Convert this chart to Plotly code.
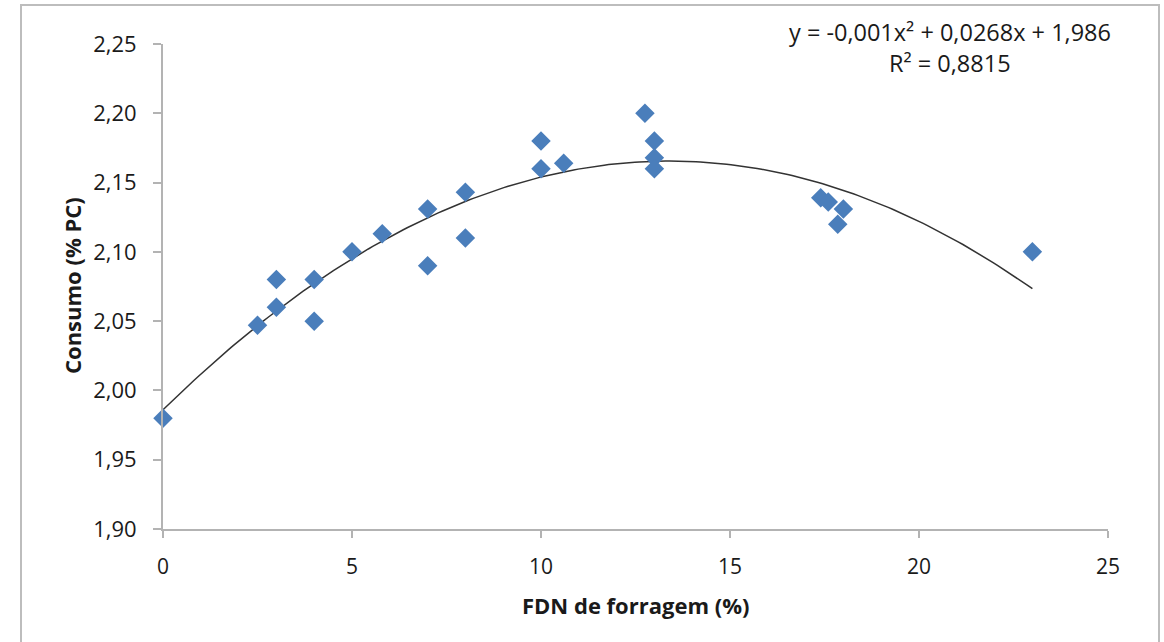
import numpy as np
import plotly.graph_objects as go

# Data
fdn_forragem = [0, 2.5, 3, 3, 4, 4, 5, 5.8, 7, 7, 8, 8, 10, 10, 10.6, 12.75, 13, 13, 13, 17.4, 17.6, 18, 17.85, 23]
consumo = [1.98, 2.047, 2.08, 2.06, 2.08, 2.05, 2.10, 2.113, 2.131, 2.09, 2.143, 2.11, 2.18, 2.16, 2.164, 2.20, 2.18, 2.168, 2.16, 2.139, 2.136, 2.131, 2.12, 2.10]

# Trendline coefficients as printed on the chart
coef_a = -0.001
coef_b = 0.0268
coef_c = 1.986
r2_text = "0,8815"

x_ticks = [0, 5, 10, 15, 20, 25]
y_ticks = [1.90, 1.95, 2.00, 2.05, 2.10, 2.15, 2.20, 2.25]
y_tick_labels = ["1,90", "1,95", "2,00", "2,05", "2,10", "2,15", "2,20", "2,25"]

W, H = 1164, 642
ML, MR, MT, MB = 163, 56, 44, 113
pw, ph = W - ML - MR, H - MT - MB

def px2paper_x(px):
    return (px - ML) / pw

def px2paper_y(py):
    return (H - MB - py) / ph

xs = np.linspace(min(fdn_forragem), max(fdn_forragem), 200)
ys = coef_a * xs**2 + coef_b * xs + coef_c

FONT = "Open Sans"
TXT = "#1a1a1a"
AX = "#b3b3b3"

fig = go.Figure()
fig.add_trace(go.Scatter(x=xs, y=ys, mode="lines",
                         line=dict(color="#333333", width=1.5),
                         hoverinfo="skip", showlegend=False))
fig.add_trace(go.Scatter(x=fdn_forragem, y=consumo, mode="markers",
                         marker=dict(symbol="diamond", size=15, color="#4a7ebb"),
                         cliponaxis=False, showlegend=False))

fig.update_layout(
    width=W, height=H,
    margin=dict(l=ML, r=MR, t=MT, b=MB, autoexpand=False),
    paper_bgcolor="white", plot_bgcolor="white",
    font=dict(family=FONT, size=20, color=TXT),
    xaxis=dict(range=[0, 25], tickvals=x_ticks, ticktext=[str(v) for v in x_ticks],
               showgrid=False, zeroline=False, showline=True, linecolor=AX, linewidth=2,
               ticks="outside", ticklen=7, tickcolor=AX, tickwidth=2,
               tickfont=dict(size=21), ticklabelstandoff=11, automargin=False),
    yaxis=dict(range=[1.90, 2.25], tickvals=y_ticks, ticktext=y_tick_labels,
               showgrid=False, zeroline=False, showline=True, linecolor=AX, linewidth=2,
               ticks="outside", ticklen=8, tickcolor=AX, tickwidth=2,
               tickfont=dict(size=22), ticklabelstandoff=12, automargin=False),
    annotations=[
        dict(xref="paper", yref="paper", x=px2paper_x(950), y=px2paper_y(32),
             text="y = -0,001x² + 0,0268x + 1,986", showarrow=False,
             xanchor="center", yanchor="middle", font=dict(size=23.5, color=TXT)),
        dict(xref="paper", yref="paper", x=px2paper_x(950), y=px2paper_y(63),
             text="R² = " + r2_text, showarrow=False,
             xanchor="center", yanchor="middle", font=dict(size=23.5, color=TXT)),
        dict(xref="paper", yref="paper", x=px2paper_x(635), y=px2paper_y(605),
             text="<b>FDN de forragem (%)</b>", showarrow=False,
             xanchor="center", yanchor="middle", font=dict(size=22, color=TXT)),
        dict(xref="paper", yref="paper", x=px2paper_x(72), y=px2paper_y(286),
             text="<b>Consumo (% PC)</b>", showarrow=False, textangle=-90,
             xanchor="center", yanchor="middle", font=dict(size=22, color=TXT)),
    ],
    shapes=[dict(type="rect", xref="paper", yref="paper",
                 x0=px2paper_x(21), x1=px2paper_x(1159),
                 y0=px2paper_y(660), y1=px2paper_y(5),
                 line=dict(color="#bdbdbd", width=2), layer="below")],
)

fig.write_html("out.html", config={"displayModeBar": False},
               post_script="document.body.style.margin='0';document.body.style.overflow='hidden';")
